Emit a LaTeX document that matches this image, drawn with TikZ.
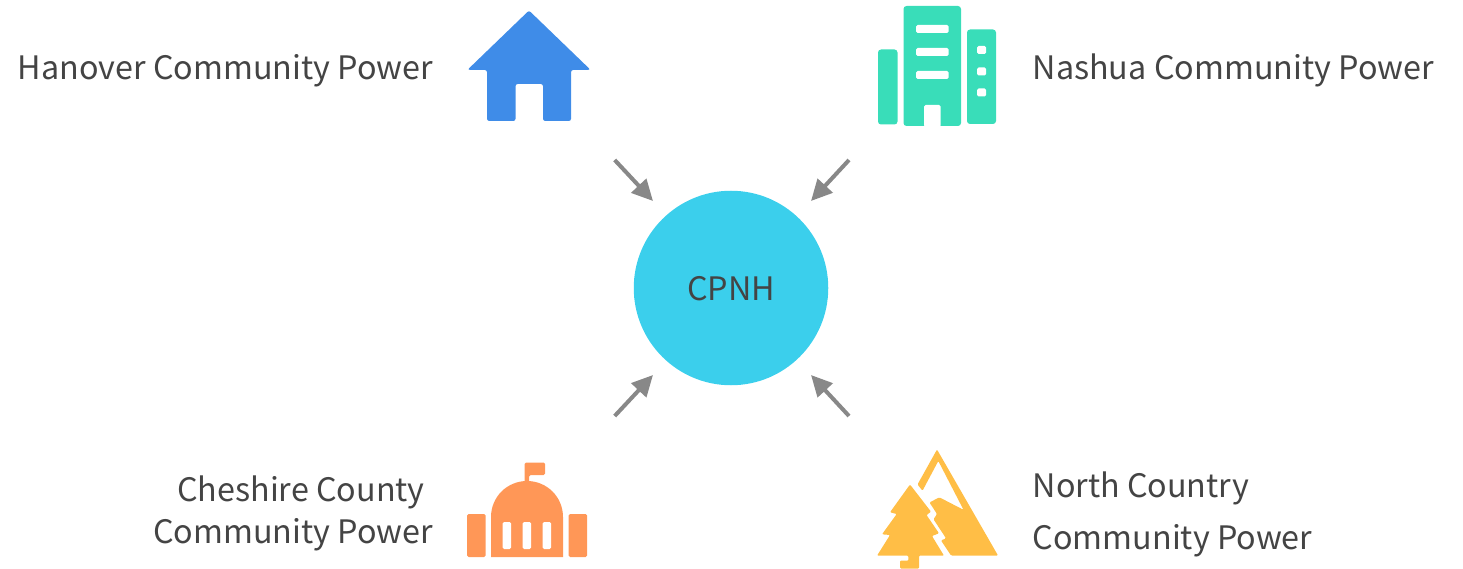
\documentclass[tikz,border=0pt]{standalone}
\usepackage{fontspec}
\setmainfont{Noto Sans CJK SC}
\usetikzlibrary{arrows.meta}
\definecolor{txt}{HTML}{444444}
\definecolor{hubc}{HTML}{3BCFEC}
\definecolor{arrc}{HTML}{888888}
\definecolor{housec}{HTML}{3F8CE8}
\definecolor{cityc}{HTML}{39DDB9}
\definecolor{capc}{HTML}{FF9757}
\definecolor{mtnc}{HTML}{FFBE46}
\tikzset{
  x=1pt,y=-1pt,
  lbl/.style={text=txt,font=\fontsize{32.3}{42}\selectfont,inner sep=0pt},
  flow/.style={draw=arrc,line width=4pt,-{Triangle[length=21pt,width=20pt]}},
  hole/.style={fill=white,rounded corners=1.5pt},
}
\begin{document}
\begin{tikzpicture}
\useasboundingbox (0,0) rectangle (1463,569);
% hub
\node[circle,fill=hubc,minimum size=194.5pt,inner sep=0pt] (hub) at (731,288) {};
\node[lbl,anchor=base] (hublabel) at (731,300) {CPNH};
% house
\fill[housec,rounded corners=2.2pt] (529,10.5) -- (590.5,69.8) -- (571,70) -- (571,121) -- (543,121) -- (543,84) -- (515.5,84) -- (515.5,121) -- (487,121) -- (487,70) -- (467.5,69.8) -- cycle;
% city
\begin{scope}[cityc]
\fill[rounded corners=3pt] (878,49.5) rectangle (897.5,124.5);
\fill[rounded corners=3pt] (903.5,6) rectangle (961,126);
\fill[rounded corners=3pt] (967,29.5) rectangle (996,124);
\end{scope}
\foreach \yy in {25,48,71} \fill[hole] (916,\yy) rectangle (948.5,\yy+8);
\foreach \yy in {46,67.5,88.5} \fill[hole] (977,\yy) rectangle (986,\yy+8);
\fill[white,rounded corners=1.5pt] (924,127) -- (924,105) -- (940.5,105) -- (940.5,127) -- cycle;
% capitol
\begin{scope}[capc]
\fill[rounded corners=1.5pt] (467,514) rectangle (485.5,557);
\fill[rounded corners=1.5pt] (568.5,514) rectangle (587,557);
\fill (491,557) -- (491,517) .. controls (491,497) and (507,481) .. (527,481) .. controls (547,481) and (563,497) .. (563,517) -- (563,557) -- cycle;
\fill[rounded corners=1.5pt] (524.5,485) -- (524.5,462.5) -- (545,462.5) -- (545,475) -- (529,475) -- (529,485) -- cycle;
\end{scope}
\foreach \xx in {502.5,522.5,542.5} \fill[hole] (\xx,522) rectangle (\xx+8.5,549);
% mountain + tree
\fill[mtnc,rounded corners=1pt] (917.5,484.5) -- (937,449.5) -- (998,555.5) -- (951,555.5) -- (941,540.5) -- (946,538.3) -- (933.5,519.3) -- (937,514) -- (929.5,502.5) -- (939.3,497.3) -- (963.5,509.8) -- (938.3,461) -- (922.5,490.7) -- cycle;
\fill[mtnc,rounded corners=1pt] (910,484.5) -- (931,511.7) -- (926.5,515) -- (939,533.3) -- (932,536) -- (944,555.7) -- (919,555.7) -- (919,568.5) -- (900,568.5) -- (900,560.7) -- (908.3,560.7) -- (908.3,555.7) -- (877,555.7) -- (890,535) -- (882,534.3) -- (896.7,514) -- (890,512.3) -- cycle;
% labels
\node[lbl,anchor=base east] (hanover) at (433,80) {Hanover Community Power};
\node[lbl,anchor=base west] (nashua) at (1032.5,80) {Nashua Community Power};
\node[lbl,anchor=base east,align=right] (cheshire) at (433,543) {Cheshire County\mbox{\hspace{8pt}}\\Community Power};
\node[lbl,anchor=base west,align=left] (north) at (1032.5,549) {North Country\\[10pt]Community Power};
% arrow ends
\coordinate (a1) at (614.7,160); \coordinate (b1) at (653,201);
\coordinate (a2) at (849,160); \coordinate (b2) at (811,201);
\coordinate (a3) at (614.7,416); \coordinate (b3) at (653,375);
\coordinate (a4) at (849,416); \coordinate (b4) at (811,375);
\draw[flow] (a1) -- (b1);
\draw[flow] (a2) -- (b2);
\draw[flow] (a3) -- (b3);
\draw[flow] (a4) -- (b4);
\end{tikzpicture}
\end{document}
